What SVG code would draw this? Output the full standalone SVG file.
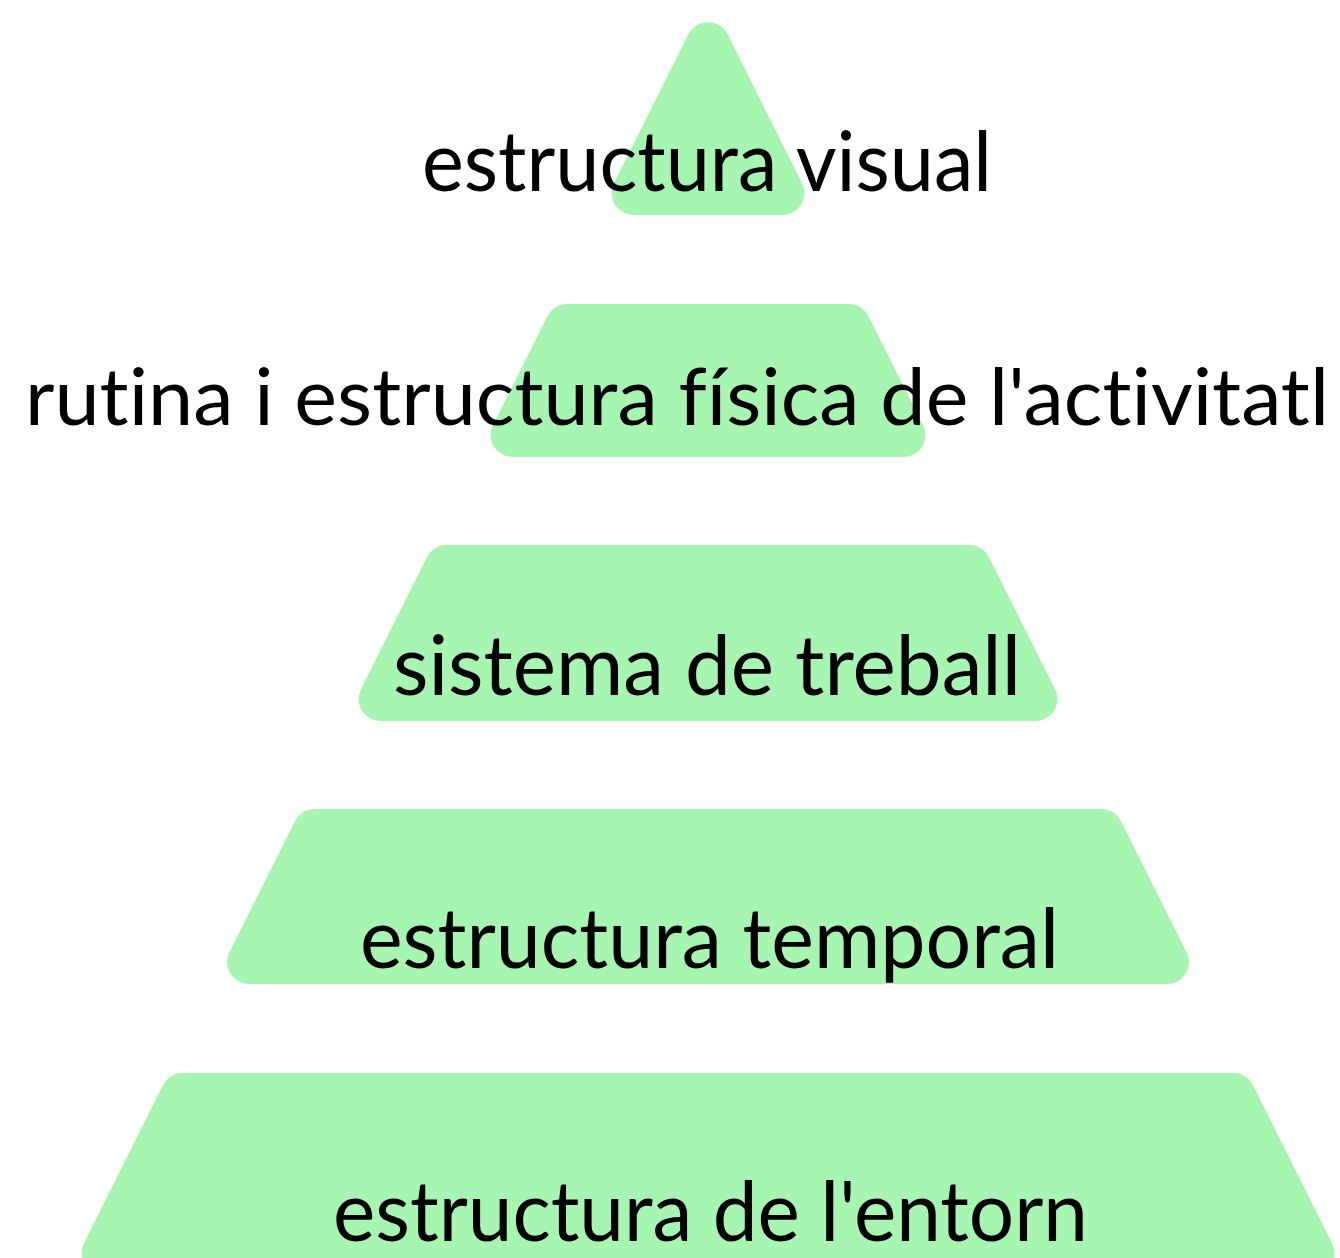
<svg xmlns="http://www.w3.org/2000/svg" width="1340" height="1258" viewBox="0 0 1340 1258">
  <style>
    .layer { fill: #a6f5b0; stroke: #a6f5b0; stroke-width: 44; stroke-linejoin: round; }
    .label { font-family: "Lato", "Noto Sans", "Liberation Sans", sans-serif; font-size: 84px; fill: #000000; text-anchor: middle; font-variant-ligatures: none; font-feature-settings: "liga" 0, "clig" 0; }
    .long { font-size: 79px; }
  </style>
  <rect width="1340" height="1258" fill="#ffffff"/>
  <g id="layer-visual">
    <polygon class="layer" points="708,44.2 782.4,193 633.6,193"/>
    <text class="label" x="707" y="191" textLength="570" lengthAdjust="spacingAndGlyphs">estructura visual</text>
  </g>
  <g id="layer-rutina">
    <polygon class="layer" points="567.1,326 848.9,326 903.4,435 512.6,435"/>
    <text class="label long" x="677" y="425" textLength="1304" lengthAdjust="spacingAndGlyphs">rutina i estructura física de l'activitatl</text>
  </g>
  <g id="layer-sistema">
    <polygon class="layer" points="446.6,567 969.4,567 1035.4,699 380.6,699"/>
    <text class="label" x="707" y="695" textLength="628" lengthAdjust="spacingAndGlyphs">sistema de treball</text>
  </g>
  <g id="layer-temporal">
    <polygon class="layer" points="314.6,831 1101.4,831 1166.9,962 249.1,962"/>
    <text class="label" x="709.5" y="968" textLength="699" lengthAdjust="spacingAndGlyphs">estructura temporal</text>
  </g>
  <g id="layer-entorn">
    <polygon class="layer" points="182.6,1095 1233.4,1095 1312.4,1253 103.6,1253"/>
    <text class="label" x="710.5" y="1241" textLength="755" lengthAdjust="spacingAndGlyphs">estructura de l'entorn</text>
  </g>
</svg>
